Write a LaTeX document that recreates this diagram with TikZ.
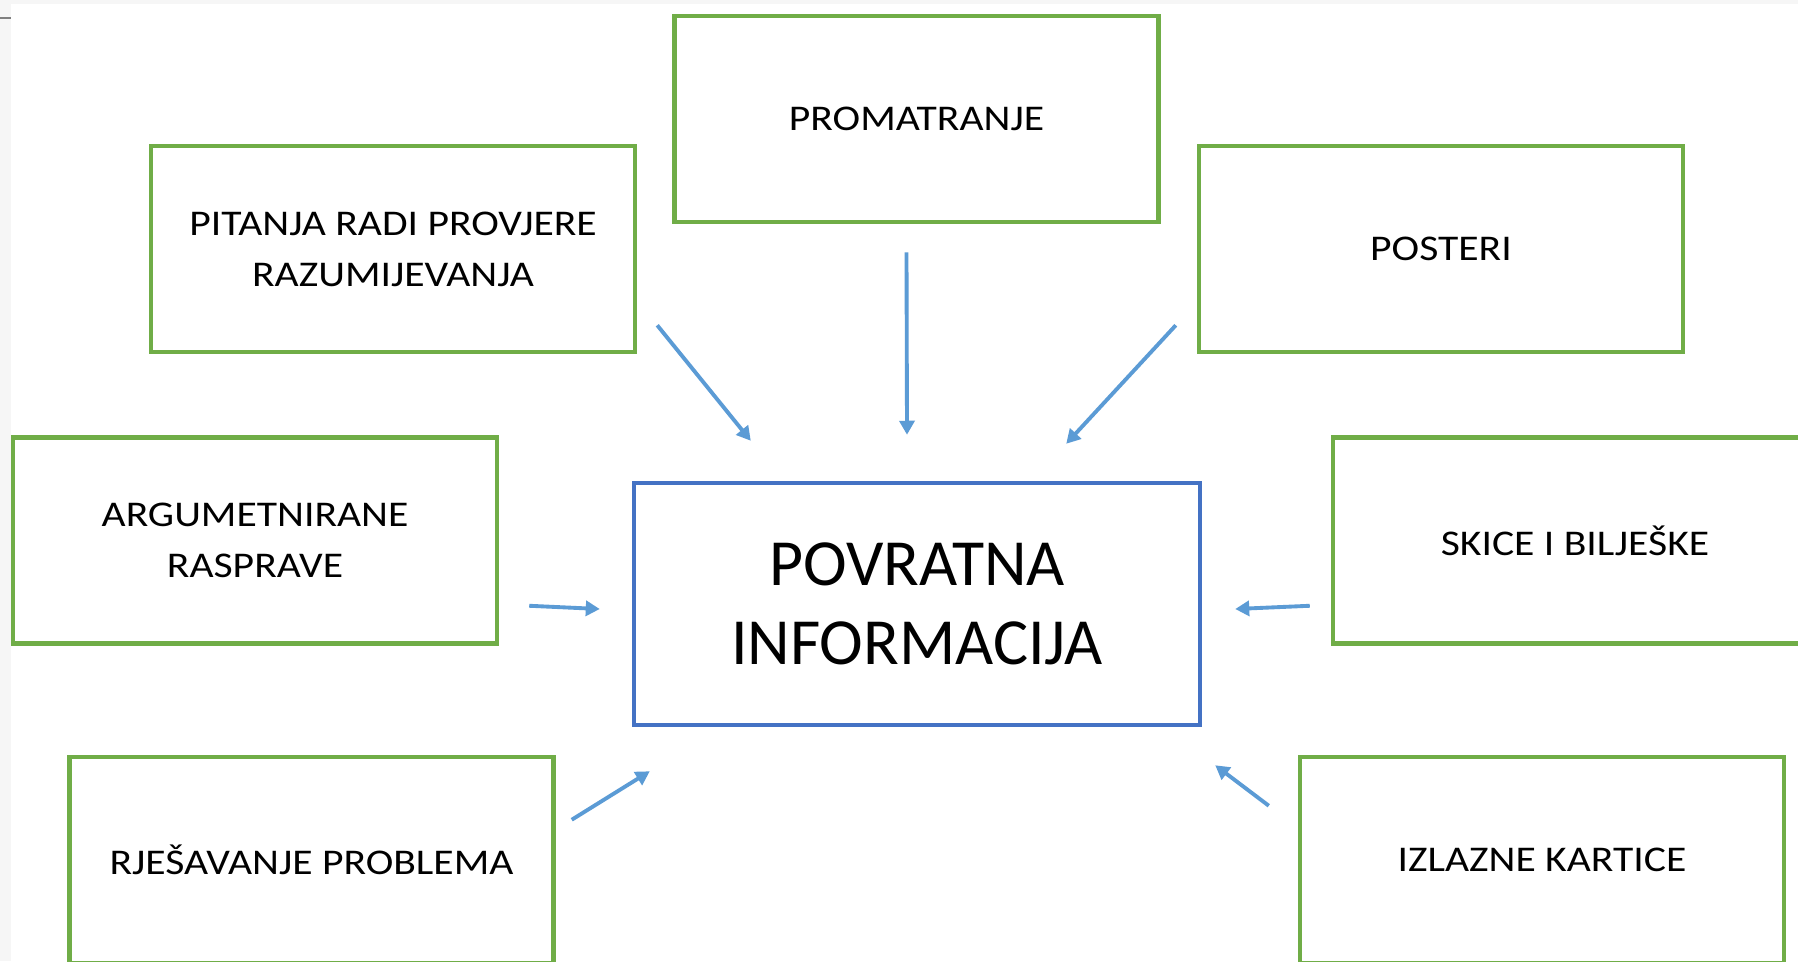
\documentclass[tikz,border=0pt]{standalone}
\usepackage{fontspec}
\setmainfont{Carlito}
\newfontfamily\boxfont{Carlito}[FakeStretch=1.15]
\usetikzlibrary{arrows.meta}
\definecolor{boxgreen}{HTML}{70AD47}
\definecolor{boxblue}{HTML}{4472C4}
\definecolor{arrblue}{HTML}{5B9BD5}
\definecolor{edgegray}{HTML}{F6F6F6}
\begin{document}
\begin{tikzpicture}[
    x=0.02cm, y=-0.02cm,
    box/.style={rectangle,draw=boxgreen,line width=2.6pt,minimum width=9.68cm,minimum height=4.12cm,
        inner sep=0pt,align=center,font=\boxfont\fontsize{20.6}{29}\selectfont},
    mainbox/.style={rectangle,draw=boxblue,line width=2.6pt,minimum width=11.32cm,minimum height=4.84cm,
        inner sep=0pt,align=center,font=\fontsize{37.5}{45}\selectfont},
    arr/.style={draw=arrblue,line width=2.2pt,-{Triangle[length=0.28cm,width=0.3cm]}}
]
\useasboundingbox (0,0) rectangle (1798,961);
\fill[edgegray] (0,0) rectangle (1798,961);
\fill[white] (11,4) rectangle (1798,961);
\draw[gray,line width=1pt] (0,18) -- (11,18);
\clip (0,0) rectangle (1798,961);

% Središnji pravokutnik
\node[mainbox] (POV) at (917,604) {POVRATNA\\INFORMACIJA};

% Okolni pravokutnici
\node[box] (PRO) at (916.5,119) {PROMATRANJE};
\node[box] (PIT) at (393,249) {PITANJA RADI PROVJERE\\RAZUMIJEVANJA};
\node[box] (POS) at (1441,249) {POSTERI};
\node[box] (ARG) at (255,540.5) {ARGUMETNIRANE\\RASPRAVE};
\node[box] (SKI) at (1575,540.5) {SKICE I BILJEŠKE};
\node[box] (RJE) at (311.5,860) {RJEŠAVANJE PROBLEMA};
\node[box] (IZL) at (1542,860) {IZLAZNE KARTICE};

% Strelice prema središtu
\draw[arr] ([shift={(20,-29)}]PIT.south east) -- ([shift={(119,-40)}]POV.north west);
\draw[arr] ([shift={(-10,28)}]PRO.south) -- ([shift={(-10,-46)}]POV.north);
\draw[arr] ([shift={(-21,-29)}]POS.south west) -- ([shift={(-136,-37)}]POV.north east);
\draw[arr] ([shift={(30,-40)}]ARG.south east) -- ([shift={(-32,5)}]POV.west);
\draw[arr] ([shift={(-21,-40)}]SKI.south west) -- ([shift={(33,5)}]POV.east);
\draw[arr] ([shift={(16,65)}]RJE.north east) -- ([shift={(18,44)}]POV.south west);
\draw[arr] ([shift={(-29,51)}]IZL.north west) -- ([shift={(13,38)}]POV.south east);
\end{tikzpicture}
\end{document}
